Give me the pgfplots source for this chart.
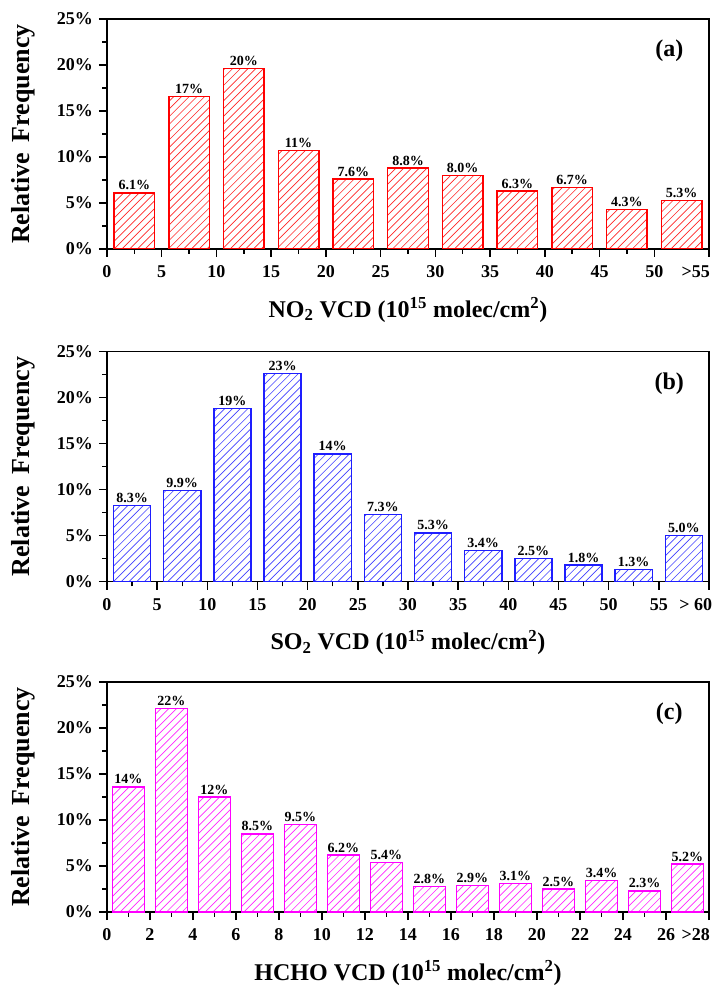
\documentclass[border=0pt]{standalone}
\usepackage{fontspec}
\setmainfont{Liberation Serif}
\usepackage{pgfplots}
\pgfplotsset{compat=1.18}

\definecolor{cred}{RGB}{255,0,0}
\definecolor{cblue}{RGB}{30,30,255}
\definecolor{cmag}{RGB}{255,0,255}

% diagonal hatching clipped to each bar, drawn with plain pgf paths
\newdimen\hx \newdimen\hy \newdimen\hs
\makeatletter
\newcommand\hatchlines[1]{%
  \pgfpointanchor{path picture bounding box}{south west}%
  \hx=\pgf@x \hy=\pgf@y
  \ifdim\hx<8000pt\relax\ifdim\hx>-8000pt\relax
    \pgfsetstrokecolor{#1}\pgfsetlinewidth{0.5pt}%
    \foreach \k in {-32,...,80}{%
      \hs=\k\dimexpr 58pt/10\relax
      \advance\hs by \hx
      \pgfpathmoveto{\pgfqpoint{\hs}{\hy}}%
      \advance\hs by 200pt
      \pgfpathlineto{\pgfqpoint{\hs}{\dimexpr\hy+200pt\relax}}%
      \pgfusepath{stroke}}%
  \fi\fi}
\makeatother

\pgfplotsset{
  panel/.style={
    scale only axis, width=451.5pt, height=172.5pt,
    ymin=0, ymax=25, ytick={0,5,...,25},
    yticklabels={0\%,5\%,10\%,15\%,20\%,25\%},
    minor x tick num=1, minor y tick num=1,
    xtick pos=left, ytick pos=left, tick align=outside,
    major tick length=6pt, minor tick length=3.5pt,
    every tick/.style={black, line width=1.1pt},
    axis line style={line width=1.1pt},
    /pgf/number format/assume math mode=true,
    ticklabel style={font=\bfseries\fontsize{13.5}{15}\selectfont},
    xticklabel style={yshift=-3pt},
    yticklabel style={xshift=-1pt},
    ylabel={Relative\, Frequency},
    ylabel style={font=\bfseries\fontsize{19.5}{21}\selectfont, at={(axis description cs:-0.1395,0.5)}, anchor=center},
    xlabel style={font=\bfseries\fontsize{18}{20}\selectfont, at={(axis description cs:0.5,-0.265)}, anchor=center},
    extra x tick style={xticklabel style={xshift=-10pt}},
    ybar, bar shift=0pt,
    nodes near coords, point meta=explicit symbolic,
    every node near coord/.append style={font=\bfseries\fontsize{10.5}{12}\selectfont, black, inner sep=1.5pt, path picture={}},
  },
  hatch/.style={draw=#1, line width=1.1pt, fill=none, path picture={\hatchlines{#1!85}}},
}

\begin{document}
\begin{tikzpicture}
% (a) NO2
\begin{axis}[panel, xmin=0, xmax=55, xtick={0,5,...,50},
  extra x ticks={55}, extra x tick labels={>55},
  bar width=3.7,
  xlabel={NO\textsubscript{2} VCD (10\textsuperscript{15} molec/cm\textsuperscript{2})}]
\addplot[hatch=cred] coordinates {
  (2.5,6.1) [6.1\%] (7.5,16.6) [17\%] (12.5,19.6) [20\%] (17.5,10.7) [11\%]
  (22.5,7.6) [7.6\%] (27.5,8.8) [8.8\%] (32.5,8.0) [8.0\%] (37.5,6.3) [6.3\%]
  (42.5,6.7) [6.7\%] (47.5,4.3) [4.3\%] (52.5,5.3) [5.3\%]};
\node[font=\bfseries\fontsize{18}{20}\selectfont] at (rel axis cs:0.934,0.86) {(a)};
\coordinate (tl) at (rel axis cs:0,1);
\end{axis}

% (b) SO2
\begin{axis}[panel, at={(0,-249.5pt)}, xmin=0, xmax=60, xtick={0,5,...,55},
  extra x ticks={60}, extra x tick labels={> 60},
  bar width=3.7,
  xlabel={SO\textsubscript{2} VCD (10\textsuperscript{15} molec/cm\textsuperscript{2})}]
\addplot[hatch=cblue] coordinates {
  (2.5,8.3) [8.3\%] (7.5,9.9) [9.9\%] (12.5,18.8) [19\%] (17.5,22.6) [23\%]
  (22.5,13.9) [14\%] (27.5,7.3) [7.3\%] (32.5,5.3) [5.3\%] (37.5,3.4) [3.4\%]
  (42.5,2.5) [2.5\%] (47.5,1.8) [1.8\%] (52.5,1.3) [1.3\%] (57.5,5.0) [5.0\%]};
\node[font=\bfseries\fontsize{18}{20}\selectfont] at (rel axis cs:0.934,0.86) {(b)};
\end{axis}

% (c) HCHO
\begin{axis}[panel, at={(0,-497.25pt)}, xmin=0, xmax=28, xtick={0,2,...,26},
  extra x ticks={28}, extra x tick labels={>28},
  bar width=1.5,
  xlabel={HCHO VCD (10\textsuperscript{15} molec/cm\textsuperscript{2})}]
\addplot[hatch=cmag] coordinates {
  (1,13.6) [14\%] (3,22.1) [22\%] (5,12.5) [12\%] (7,8.5) [8.5\%]
  (9,9.5) [9.5\%] (11,6.2) [6.2\%] (13,5.4) [5.4\%] (15,2.8) [2.8\%]
  (17,2.9) [2.9\%] (19,3.1) [3.1\%] (21,2.5) [2.5\%] (23,3.4) [3.4\%]
  (25,2.3) [2.3\%] (27,5.2) [5.2\%]};
\node[font=\bfseries\fontsize{18}{20}\selectfont] at (rel axis cs:0.934,0.86) {(c)};
\end{axis}

\pgfresetboundingbox
\path (tl) ++(-80.25pt,14.25pt) rectangle ++(538.5pt,-741.75pt);
\end{tikzpicture}
\end{document}
